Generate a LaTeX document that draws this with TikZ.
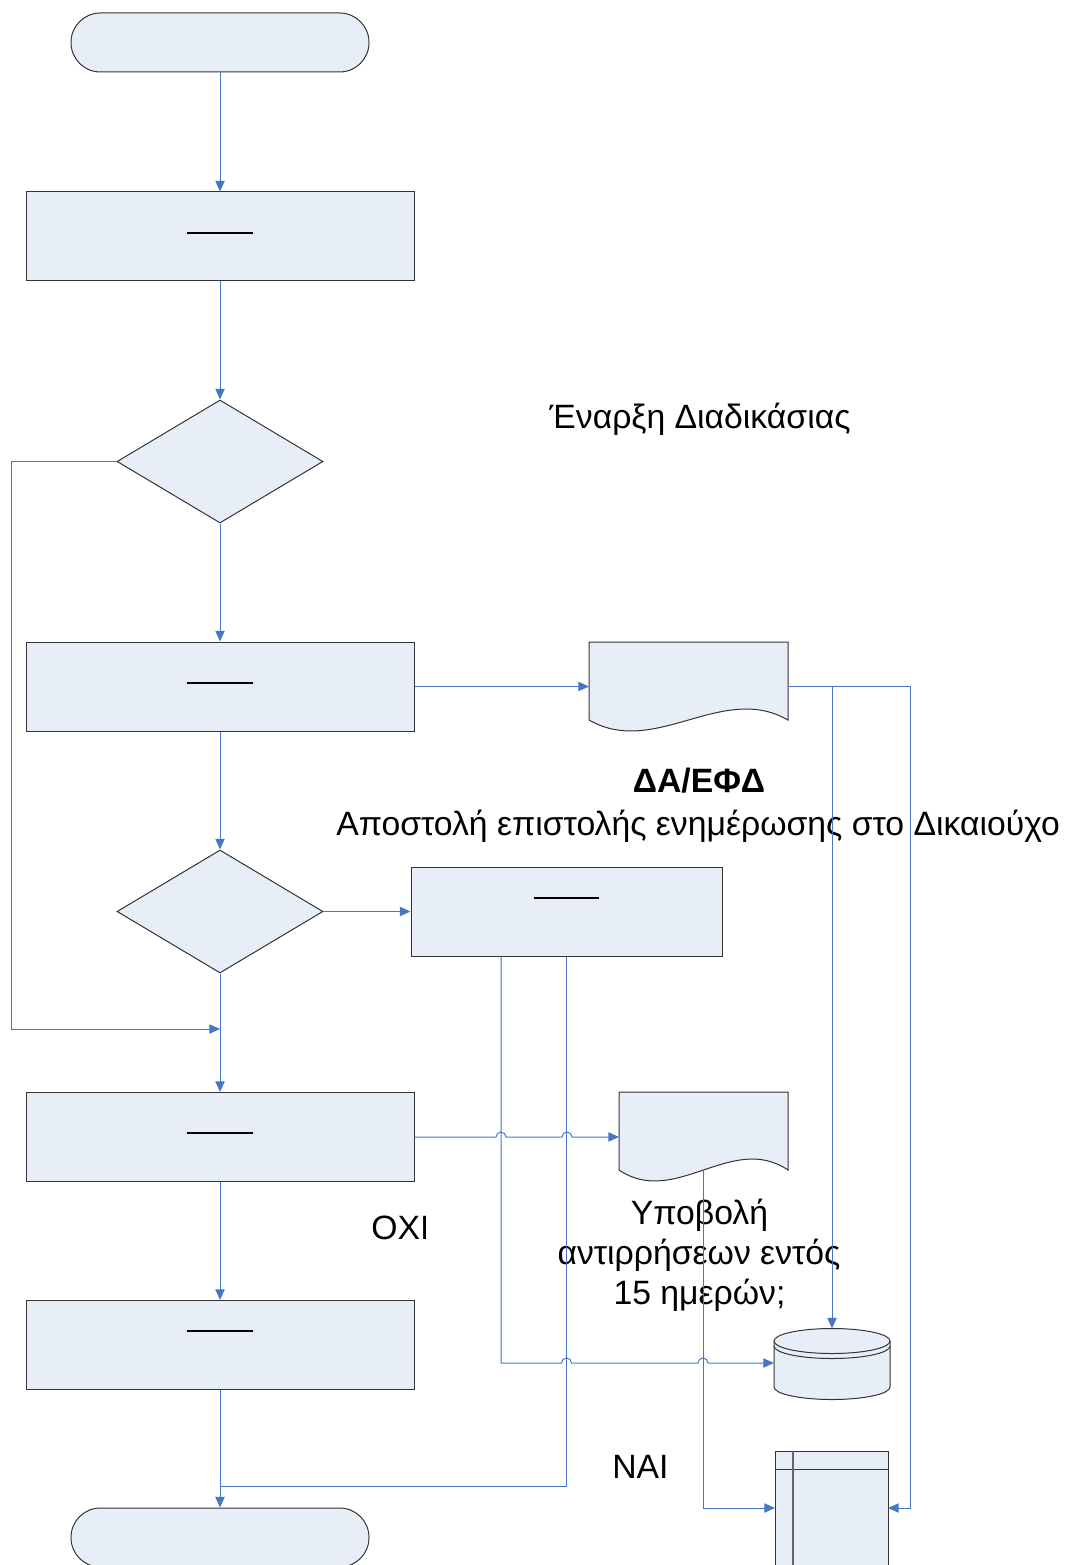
\documentclass[tikz,border=0pt]{standalone}
\usepackage{fontspec}
\setmainfont{Liberation Sans}
\usetikzlibrary{shapes.geometric,arrows.meta}
\definecolor{fillb}{RGB}{232,238,247}
\definecolor{lineb}{RGB}{72,118,196}
\begin{document}
\begin{tikzpicture}[x=0.75pt,y=-0.75pt,
  shp/.style={draw=black!80,fill=fillb,line width=0.75pt},
  boxn/.style={shp,rectangle,inner sep=0pt,minimum width=291pt,minimum height=66.75pt},
  termn/.style={shp,rectangle,rounded corners=22pt,inner sep=0pt,minimum width=223.5pt,minimum height=44.25pt},
  decn/.style={shp,diamond,inner sep=0pt,minimum width=154.5pt,minimum height=92.25pt},
  dashl/.style={draw=black,line width=1.4pt},
  conn/.style={draw=lineb,line width=0.75pt},
  arr/.style={conn,-{Triangle[length=8pt,width=7pt]}},
  lbl/.style={font=\fontsize{25.3}{30}\selectfont,inner sep=0pt},
  ]
\useasboundingbox (0,0) rectangle (1066,1565);

% ---------- texts (drawn under the connectors) ----------
\node[lbl,anchor=base] (txen) at (700,428) {Έναρξη Διαδικάσιας};
\node[lbl,anchor=base,font=\fontsize{25.3}{30}\selectfont\bfseries] (txda) at (699,792) {ΔΑ/ΕΦΔ};
\node[lbl,anchor=base west] (txap) at (336,835) {Αποστολή επιστολής ενημέρωσης στο Δικαιούχο};
\node[lbl,anchor=base] (txyp1) at (699.5,1224) {Υποβολή};
\node[lbl,anchor=base] (txyp2) at (699,1264) {αντιρρήσεων εντός};
\node[lbl,anchor=base] (txyp3) at (699.5,1304) {15 ημερών;};
\begin{scope}
\clip (360,1190) rectangle (425,1260);
\node[lbl,anchor=base west] (txoxi) at (371,1239) {ΟΧΙ};
\end{scope}
\begin{scope}
\clip (600,1430) rectangle (665,1500);
\node[lbl,anchor=base west] (txnai) at (612,1478) {ΝΑΙ};
\end{scope}

% ---------- main column ----------
\node[termn] (t1) at (220,42.5) {};
\node[boxn] (b1) at (220,236.5) {};
\node[decn] (d1) at (220,461.5) {};
\node[boxn] (b2) at (220,686.5) {};
\node[decn] (d2) at (220,911.5) {};
\node[boxn] (b4) at (220,1137) {};
\node[boxn] (b5) at (220,1345) {};
\node[termn] (t2) at (220,1537.5) {};
\node[shp,rectangle,inner sep=0pt,minimum width=233.25pt,minimum height=66.75pt] (b3) at (566.5,911.5) {};

\draw[dashl] (187,233) -- (253,233);
\draw[dashl] (187,683) -- (253,683);
\draw[dashl] (187,1133) -- (253,1133);
\draw[dashl] (187,1331) -- (253,1331);
\draw[dashl] (534,898) -- (599,898);

% ---------- documents ----------
\draw[shp] (589,720) -- (589,642) -- (788,642) -- (788,720)
  .. controls (722,682) and (655,758) .. (589,720) -- cycle;
\draw[shp] (619,1170) -- (619,1092) -- (788,1092) -- (788,1170)
  .. controls (731.7,1132) and (675.3,1208) .. (619,1170) -- cycle;

% ---------- database ----------
\draw[shp] (774,1341) -- (774,1387) arc[start angle=180,end angle=0,x radius=58,y radius=12.5] -- (890,1341);
\draw[shp] (832,1341) ellipse[x radius=58,y radius=12.5];
\draw[draw=black!80,line width=0.75pt] (774,1346) arc[start angle=180,end angle=0,x radius=58,y radius=12.5];

% ---------- internal storage ----------
\draw[shp] (775,1451) rectangle (888,1575);
\draw[draw=black!80,line width=0.75pt] (775,1469) -- (888,1469);
\draw[draw=black!60,line width=1.2pt] (793,1451) -- (793,1575);

% ---------- coordinates ----------
\coordinate (lft) at (11,1029);
\coordinate (j1) at (220,1029);
\coordinate (doc1w) at (589,686.5);
\coordinate (doc1e) at (788,686.5);
\coordinate (br1) at (832,686.5);
\coordinate (cylt) at (832,1328.5);
\coordinate (rgt) at (910,1508);
\coordinate (ste) at (888,1508);
\coordinate (stw) at (775,1508);
\coordinate (doc2w) at (619,1137);
\coordinate (doc2b) at (703,1170);
\coordinate (cylw) at (774,1363);
\coordinate (b3l) at (501,956.5);
\coordinate (j2) at (220,1486);

% ---------- connectors ----------
\draw[arr] (t1) -- (b1);
\draw[arr] (b1) -- (d1);
\draw[arr] (d1) -- (b2);
\draw[arr] (b2) -- (d2);
\draw[arr] (d2) -- (b4);
\draw[arr] (b4) -- (b5);
\draw[arr] (b5) -- (t2);
\draw[arr] (d1.west) -| (lft) -- (j1);
\draw[arr] (d2.east) -- (b3.west);
\draw[arr] (b2.east) -- (doc1w);
\draw[arr] (doc1e) -| (rgt) -- (ste);
\draw[arr] (br1) -- (cylt);
\draw[arr] (b4.east) -- (496,1137) arc[start angle=180,end angle=360,radius=5]
  -- (562,1137) arc[start angle=180,end angle=360,radius=5] -- (doc2w);
\draw[arr] (b3l) -- (501,1363) -- (561.5,1363) arc[start angle=180,end angle=360,radius=5]
  -- (698,1363) arc[start angle=180,end angle=360,radius=5] -- (cylw);
\draw[conn] (b3.south) -- (566.5,1486) -- (j2);
\draw[arr] (doc2b) |- (stw);
\end{tikzpicture}
\end{document}
